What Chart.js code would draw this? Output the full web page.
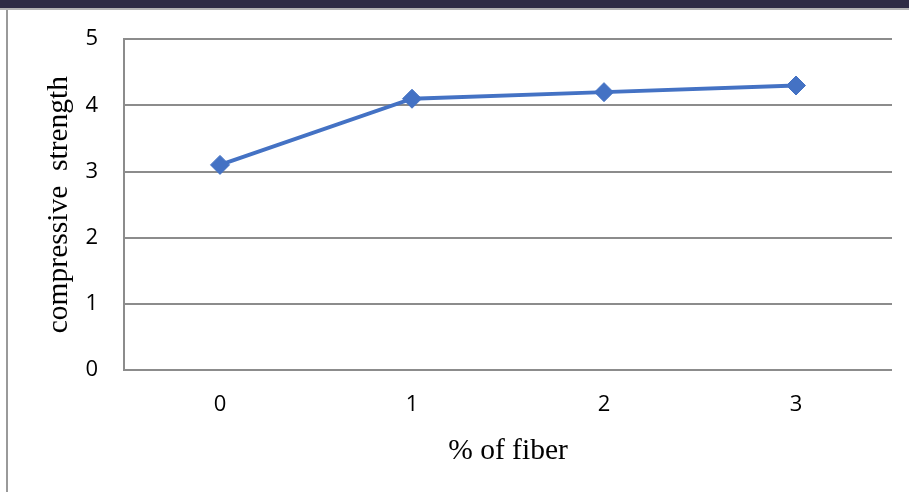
<!DOCTYPE html>
<html>
<head>
<meta charset="utf-8">
<script src="https://cdn.jsdelivr.net/npm/chart.js@4/dist/chart.umd.min.js"></script>
<style>
  html, body { margin: 0; padding: 0; background: #ffffff; }
  canvas { display: block; }
</style>
</head>
<body>
<canvas id="chart" width="909" height="492"></canvas>
<script>
// Fibre content (%) and measured compressive strength
const fiberPercent = ['0', '1', '2', '3'];
const compressiveStrength = [3.1, 4.1, 4.2, 4.3];
const yTicks = [0, 1, 2, 3, 4, 5];

const xTitle = '% of fiber';
const yTitle = 'compressive  strength';

// Window frame: dark title strip along the top and a thin border on the left
const framePlugin = {
  id: 'frame',
  beforeDraw(chart) {
    const ctx = chart.ctx;
    ctx.save();
    ctx.fillStyle = '#ffffff';
    ctx.fillRect(0, 0, chart.width, chart.height);
    ctx.fillStyle = '#2f2c45';
    ctx.fillRect(0, 0, chart.width, 8);
    ctx.fillStyle = '#b4b4b4';
    ctx.fillRect(0, 8, chart.width, 2);
    ctx.fillStyle = '#9a9a9a';
    ctx.fillRect(6, 10, 2, chart.height - 10);
    ctx.restore();
  }
};

new Chart(document.getElementById('chart'), {
  type: 'line',
  data: {
    labels: fiberPercent,
    datasets: [{
      data: compressiveStrength,
      borderColor: '#4472c4',
      backgroundColor: '#4472c4',
      borderWidth: 3.8,
      tension: 0,
      pointStyle: 'rectRot',
      pointRadius: 9.5,
      pointHoverRadius: 9.5,
      pointBorderWidth: 1
    }]
  },
  options: {
    responsive: false,
    animation: false,
    devicePixelRatio: 1,
    layout: { padding: { top: 38, right: 17, left: 0, bottom: 0 } },
    plugins: {
      legend: { display: false },
      tooltip: { enabled: false }
    },
    scales: {
      x: {
        type: 'category',
        offset: true,
        grid: { display: false, drawTicks: false },
        border: { display: false },
        ticks: {
          color: '#000000',
          padding: 22,
          font: { family: '"Open Sans", sans-serif', size: 22 }
        },
        title: {
          display: true,
          text: xTitle,
          color: '#000000',
          padding: { top: 0, bottom: 23 },
          font: { family: '"Liberation Serif", "Times New Roman", serif', size: 29.5 }
        },
        afterFit(scale) { scale.height = 122; }
      },
      y: {
        min: 0,
        max: 5,
        afterBuildTicks(scale) { scale.ticks = yTicks.map(v => ({ value: v })); },
        grid: { color: '#8c8c8c', lineWidth: 2, drawTicks: false },
        border: { display: true, color: '#8c8c8c', width: 2 },
        ticks: {
          color: '#000000',
          padding: 26,
          font: { family: '"Open Sans", sans-serif', size: 22 }
        },
        title: {
          display: true,
          text: yTitle,
          color: '#000000',
          padding: { top: 42, bottom: 0 },
          font: { family: '"Liberation Serif", "Times New Roman", serif', size: 29.5 }
        },
        afterFit(scale) { scale.width = 124; }
      }
    }
  },
  plugins: [framePlugin]
});
</script>
</body>
</html>
